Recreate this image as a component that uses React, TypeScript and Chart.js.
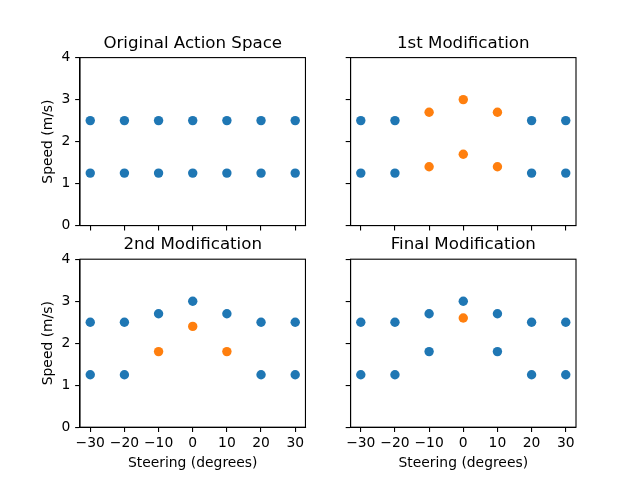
import React, { useEffect, useRef } from 'react';
import { Chart, registerables } from 'chart.js';

Chart.register(...registerables);

// ---- data ----
const xTicks = [-30, -20, -10, 0, 10, 20, 30];
const yTicks = [0, 1, 2, 3, 4];
const titles = ['Original Action Space', '1st Modification', '2nd Modification', 'Final Modification'];
const xLabel = 'Steering (degrees)';
const yLabel = 'Speed (m/s)';

const origBlueX = [-30, -20, -10, 0, 10, 20, 30, -30, -20, -10, 0, 10, 20, 30];
const origBlueY = [2.5, 2.5, 2.5, 2.5, 2.5, 2.5, 2.5, 1.25, 1.25, 1.25, 1.25, 1.25, 1.25, 1.25];
const origOrangeX: number[] = [];
const origOrangeY: number[] = [];

const mod1BlueX = [-30, -20, 20, 30, -30, -20, 20, 30];
const mod1BlueY = [2.5, 2.5, 2.5, 2.5, 1.25, 1.25, 1.25, 1.25];
const mod1OrangeX = [-10, 0, 10, -10, 0, 10];
const mod1OrangeY = [2.7, 3.0, 2.7, 1.4, 1.7, 1.4];

const mod2BlueX = [-30, -20, -10, 0, 10, 20, 30, -30, -20, 20, 30];
const mod2BlueY = [2.5, 2.5, 2.7, 3.0, 2.7, 2.5, 2.5, 1.25, 1.25, 1.25, 1.25];
const mod2OrangeX = [-10, 0, 10];
const mod2OrangeY = [1.8, 2.4, 1.8];

const finalBlueX = [-30, -20, -10, 0, 10, 20, 30, -10, 10, -30, -20, 20, 30];
const finalBlueY = [2.5, 2.5, 2.7, 3.0, 2.7, 2.5, 2.5, 1.8, 1.8, 1.25, 1.25, 1.25, 1.25];
const finalOrangeX = [0];
const finalOrangeY = [2.6];

const blueXs = [origBlueX, mod1BlueX, mod2BlueX, finalBlueX];
const blueYs = [origBlueY, mod1BlueY, mod2BlueY, finalBlueY];
const orangeXs = [origOrangeX, mod1OrangeX, mod2OrangeX, finalOrangeX];
const orangeYs = [origOrangeY, mod1OrangeY, mod2OrangeY, finalOrangeY];

// ---- layout ----
const W = 640;
const H = 480;
const AX_W = 496 / 2.2;
const AX_H = 369.6 / 2.2;
const AX_LEFTS = [80, 80 + AX_W * 1.2];
const AX_TOPS = [57.6, 57.6 + AX_H * 1.2];
const Y_AXIS_W = 39;
const X_AXIS_H_LABELED = 42.75;
const X_AXIS_H_PLAIN = 8;
const TITLE_SIZE = 16.67;
const TITLE_PAD_BOTTOM = 5.8;
const TITLE_H = TITLE_SIZE + TITLE_PAD_BOTTOM;
const FONT = 'DejaVu Sans';
const TICK_SIZE = 13.89;
const TICK_LEN = 4.86;

const BLUE = '#1f77b4';
const ORANGE = '#ff7f0e';

const framePlugin = {
  id: 'frame',
  afterDraw(chart: any) {
    const { ctx, chartArea: a } = chart;
    ctx.save();
    ctx.strokeStyle = '#000';
    ctx.lineWidth = 1.1;
    ctx.strokeRect(a.left, a.top, a.right - a.left, a.bottom - a.top);
    ctx.restore();
  },
};

const fmt = (v: number) => String(v).replace('-', '\u2212');

function makeConfig(i: number): any {
  const col = i % 2;
  const row = Math.floor(i / 2);
  const axLeft = AX_LEFTS[col];
  const axTop = AX_TOPS[row];
  const bottomRow = row === 1;
  const leftCol = col === 0;
  const xH = bottomRow ? X_AXIS_H_LABELED : X_AXIS_H_PLAIN;

  const toPts = (xs: number[], ys: number[]) => xs.map((x, k) => ({ x, y: ys[k] }));

  return {
    type: 'scatter',
    data: {
      datasets: [
        {
          data: toPts(blueXs[i], blueYs[i]),
          backgroundColor: BLUE,
          borderWidth: 0,
          pointRadius: 4.7,
          pointHoverRadius: 4.7,
        },
        {
          data: toPts(orangeXs[i], orangeYs[i]),
          backgroundColor: ORANGE,
          borderWidth: 0,
          pointRadius: 4.7,
          pointHoverRadius: 4.7,
        },
      ],
    },
    plugins: [framePlugin],
    options: {
      responsive: false,
      animation: false,
      events: [],
      layout: {
        padding: {
          left: axLeft - Y_AXIS_W,
          right: W - axLeft - AX_W,
          top: axTop - TITLE_H,
          bottom: H - (axTop + AX_H) - xH,
        },
      },
      plugins: {
        legend: { display: false },
        tooltip: { enabled: false },
        title: {
          display: true,
          text: titles[i],
          fullSize: false,
          color: '#000',
          font: { family: FONT, size: TITLE_SIZE, weight: 'normal', lineHeight: 1 },
          padding: { top: 0, bottom: TITLE_PAD_BOTTOM },
        },
      },
      scales: {
        x: {
          type: 'linear',
          position: 'bottom',
          min: -33,
          max: 33,
          afterBuildTicks: (s: any) => {
            s.ticks = xTicks.map((v) => ({ value: v }));
          },
          afterFit: (s: any) => {
            s.height = xH;
          },
          ticks: {
            color: '#000',
            font: { family: FONT, size: TICK_SIZE },
            padding: 2.8,
            maxRotation: 0,
            autoSkip: false,
            callback: (v: number) => (bottomRow ? fmt(v) : ''),
          },
          grid: {
            display: true,
            drawOnChartArea: false,
            drawTicks: true,
            tickLength: TICK_LEN,
            color: '#000',
            lineWidth: 1.1,
          },
          border: { display: true, color: '#000', width: 1.1 },
          title: {
            display: bottomRow,
            text: xLabel,
            color: '#000',
            font: { family: FONT, size: TICK_SIZE, lineHeight: 1 },
            padding: 0,
          },
        },
        y: {
          type: 'linear',
          position: 'left',
          min: 0,
          max: 4,
          afterBuildTicks: (s: any) => {
            s.ticks = yTicks.map((v) => ({ value: v }));
          },
          afterFit: (s: any) => {
            s.width = Y_AXIS_W;
          },
          ticks: {
            color: '#000',
            font: { family: FONT, size: TICK_SIZE },
            padding: 4.86,
            autoSkip: false,
            callback: (v: number) => (leftCol ? fmt(v) : ''),
          },
          grid: {
            display: true,
            drawOnChartArea: false,
            drawTicks: true,
            tickLength: TICK_LEN,
            color: '#000',
            lineWidth: 1.1,
          },
          border: { display: true, color: '#000', width: 1.1 },
          title: {
            display: leftCol,
            text: yLabel,
            color: '#000',
            font: { family: FONT, size: TICK_SIZE, lineHeight: 1 },
            padding: 0,
          },
        },
      },
    },
  };
}

export default function App() {
  const refs = [useRef<HTMLCanvasElement>(null), useRef<HTMLCanvasElement>(null), useRef<HTMLCanvasElement>(null), useRef<HTMLCanvasElement>(null)];

  useEffect(() => {
    document.body.style.margin = '0';
    const charts = refs.map((r, i) => new Chart(r.current as HTMLCanvasElement, makeConfig(i)));
    return () => charts.forEach((c) => c.destroy());
  }, []);

  return (
    <div style={{ position: 'relative', width: W, height: H, background: '#fff' }}>
      {refs.map((r, i) => (
        <canvas
          key={i}
          ref={r}
          width={W}
          height={H}
          style={{ position: 'absolute', left: 0, top: 0, width: W, height: H }}
        />
      ))}
    </div>
  );
}
